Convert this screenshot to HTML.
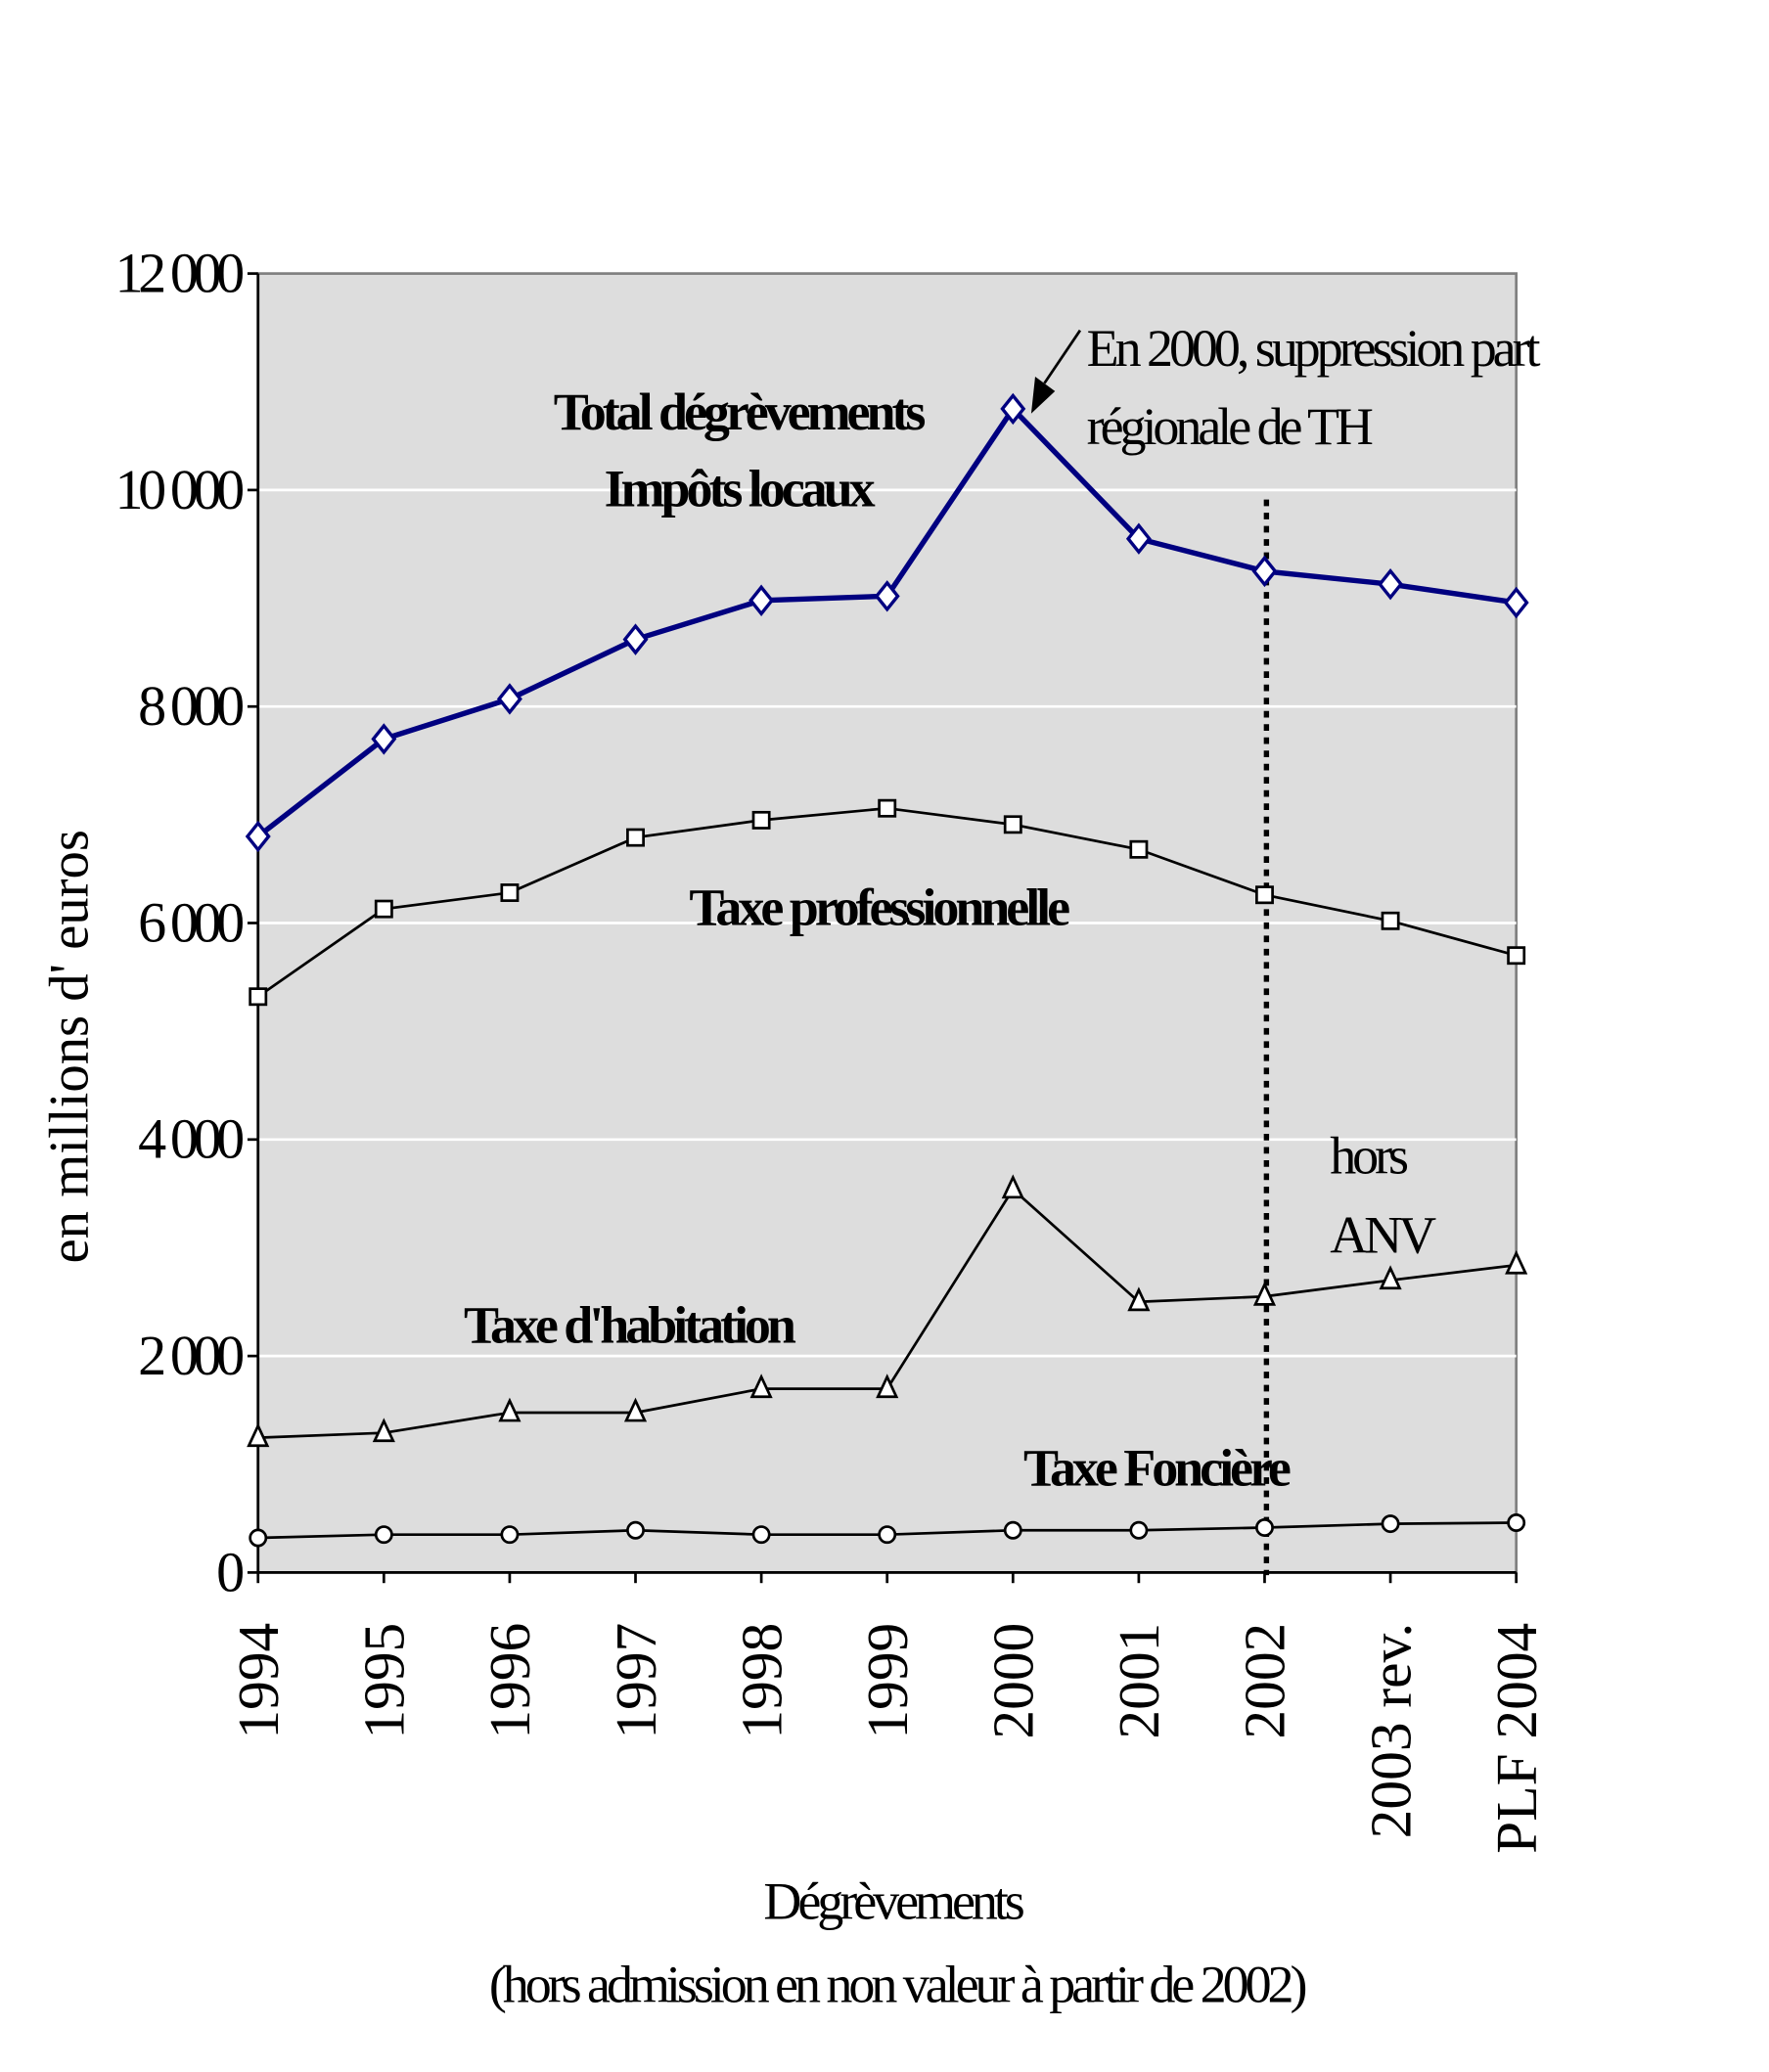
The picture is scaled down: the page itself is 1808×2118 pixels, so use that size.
<!DOCTYPE html>
<html><head><meta charset="utf-8"><style>
html,body{margin:0;padding:0;background:#fff}
svg{display:block}
text{font-family:"Liberation Serif",serif;fill:#000}
</style></head><body>
<svg width="1808" height="2118" viewBox="0 0 1338 1568" xmlns="http://www.w3.org/2000/svg">
<rect x="195" y="207" width="952" height="983" fill="#dddddd" stroke="#808080" stroke-width="2"/>
<g id="grid"></g>
<g id="axes"></g>
<line x1="958" y1="378" x2="958" y2="1192" stroke="#000" stroke-width="4" stroke-dasharray="5,5"/>
<g id="series"></g>
<text x="558" y="325" font-size="40" font-weight="bold" text-anchor="middle" letter-spacing="-3">Total dégrèvements</text>
<text x="558" y="383" font-size="40" font-weight="bold" text-anchor="middle" letter-spacing="-3">Impôts locaux</text>
<text x="664" y="700" font-size="40" font-weight="bold" text-anchor="middle" letter-spacing="-3">Taxe professionnelle</text>
<text x="475" y="1016" font-size="40" font-weight="bold" text-anchor="middle" letter-spacing="-3">Taxe d'habitation</text>
<text x="874" y="1124" font-size="40" font-weight="bold" text-anchor="middle" letter-spacing="-3">Taxe Foncière</text>
<text x="822" y="277" font-size="40" letter-spacing="-3">En 2000, suppression part</text>
<text x="822" y="336" font-size="40" letter-spacing="-3">régionale de TH</text>
<line x1="817" y1="250" x2="790" y2="290" stroke="#000" stroke-width="2"/>
<polygon points="780,313 783,285 798,296" fill="#000"/>
<text x="1006" y="888" font-size="40" letter-spacing="-3">hors</text>
<text x="1006" y="948" font-size="40" letter-spacing="-3">ANV</text>
<text transform="translate(66,792) rotate(-90)" font-size="42" text-anchor="middle">en millions d' euros</text>
<text x="675" y="1452" font-size="40" text-anchor="middle" letter-spacing="-3">Dégrèvements</text>
<text x="678" y="1515" font-size="40" text-anchor="middle" letter-spacing="-3">(hors admission en non valeur à partir de 2002)</text>
</svg>
<script>
const categories=["1994","1995","1996","1997","1998","1999","2000","2001","2002","2003 rev.","PLF 2004"];
const total=[6800,7700,8070,8620,8980,9020,10750,9550,9250,9130,8960];
const tp=[5320,6130,6280,6790,6950,7060,6910,6680,6260,6020,5700];
const th=[1245,1290,1477,1477,1697,1697,3540,2500,2550,2700,2840];
const tf=[320,350,350,390,350,350,390,390,415,450,460];
const yTicks=[0,2000,4000,6000,8000,10000,12000];
const yTickLabels=["0","2 000","4 000","6 000","8 000","10 000","12 000"];
const NS="http://www.w3.org/2000/svg";
const X0=195,X1=1147,Y0=1190,Y1=207;
function xs(i){return X0+i*(X1-X0)/(categories.length-1);}
function ys(v){return Y0-v*(Y0-Y1)/12000;}
function mk(t,a,p){const e=document.createElementNS(NS,t);for(const k in a)e.setAttribute(k,a[k]);p.appendChild(e);return e;}
const grid=document.getElementById('grid'),axes=document.getElementById('axes'),ser=document.getElementById('series');
yTicks.forEach((v,i)=>{
 if(v>0&&v<12000){const l=mk('line',{x1:X0,x2:X1,y1:ys(v),y2:ys(v),stroke:'#fff','stroke-width':2},grid);
 
 }
 const tk=mk('line',{x1:X0-8,x2:X0,y1:ys(v),y2:ys(v),stroke:'#000','stroke-width':2},axes);
 
 
 const t=mk('text',{x:X0-14,y:ys(v)+14,'font-size':43,'text-anchor':'end','letter-spacing':'-4'},axes);
 t.textContent=yTickLabels[i];
 
 
});
const ax=mk('line',{x1:X0,x2:X1,y1:Y0,y2:Y0,stroke:'#000','stroke-width':2},axes);


const ay=mk('line',{x1:X0,x2:X0,y1:Y1,y2:Y0,stroke:'#000','stroke-width':2},axes);


categories.forEach((c,i)=>{
 const tk=mk('line',{x1:xs(i),x2:xs(i),y1:Y0,y2:Y0+8,stroke:'#000','stroke-width':2},axes);
 
 
 const t=mk('text',{transform:`translate(${xs(i)+15},${Y0+38}) rotate(-90)`,'font-size':44,'text-anchor':'end'},axes);
 t.textContent=c;
 
 
});
function line(vals,color,w,name,marker){
 const p=mk('polyline',{points:vals.map((v,i)=>xs(i)+','+ys(v)).join(' '),fill:'none',stroke:color,'stroke-width':w},ser);
 
 
 vals.forEach((v,i)=>{
  const x=xs(i),y=ys(v);let m;
  if(marker==='diamond')m=mk('polygon',{points:`${x},${y-10} ${x+8},${y} ${x},${y+10} ${x-8},${y}`,fill:'#fff',stroke:color,'stroke-width':2.5},ser);
  else if(marker==='square')m=mk('rect',{x:x-6,y:y-6,width:12,height:12,fill:'#fff',stroke:'#000','stroke-width':2},ser);
  else if(marker==='triangle')m=mk('polygon',{points:`${x},${y-9} ${x+7},${y+6} ${x-7},${y+6}`,fill:'#fff',stroke:'#000','stroke-width':2},ser);
  else m=mk('ellipse',{cx:x,cy:y,rx:6,ry:6,fill:'#fff',stroke:'#000','stroke-width':2},ser);
  
  
 });
}
line(total,'#000080',4,'total','diamond');
line(tp,'#000',2,'taxe-professionnelle','square');
line(th,'#000',2,'taxe-habitation','triangle');
line(tf,'#000',2,'taxe-fonciere','circle');
</script>
</body></html>
